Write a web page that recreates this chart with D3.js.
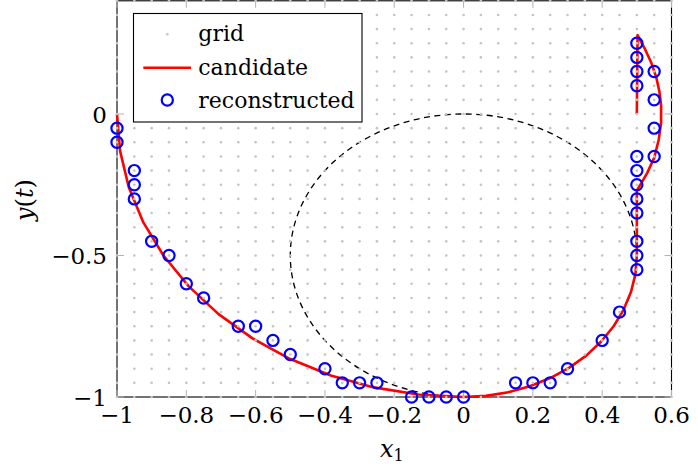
<!DOCTYPE html>
<html><head><meta charset="utf-8">
<script src="https://cdn.jsdelivr.net/npm/d3@7"></script>
<style>
body{margin:0;background:#fff}
svg{display:block}
text{font-family:"DejaVu Serif","Liberation Serif",serif;fill:#000}
</style>
</head><body><svg width="698" height="468"></svg>
<script>
// ---- data ----
const xTicks = [-1, -0.8, -0.6, -0.4, -0.2, 0, 0.2, 0.4, 0.6];
const yTicks = [-1, -0.5, 0];
const xTickLabels = ["\u22121", "\u22120.8", "\u22120.6", "\u22120.4", "\u22120.2", "0", "0.2", "0.4", "0.6"];
const yTickLabels = ["\u22121", "\u22120.5", "0"];

// grid lattice coordinates (legend "grid")
const gridXs = [-1,-0.95,-0.9,-0.85,-0.8,-0.75,-0.7,-0.65,-0.6,-0.55,-0.5,-0.45,-0.4,-0.35,-0.3,-0.25,-0.2,-0.15,-0.1,-0.05,0,0.05,0.1,0.15,0.2,0.25,0.3,0.35,0.4,0.45,0.5,0.55,0.6];
const gridYs = [-1,-0.95,-0.9,-0.85,-0.8,-0.75,-0.7,-0.65,-0.6,-0.55,-0.5,-0.45,-0.4,-0.35,-0.3,-0.25,-0.2,-0.15,-0.1,-0.05,0,0.05,0.1,0.15,0.2,0.25,0.3,0.35,0.4];

// candidate curve
const candX = [-1,-0.991,-0.966,-0.924,-0.866,-0.793,-0.707,-0.609,-0.5,-0.383,-0.259,-0.131,0,
  0.065,0.129,0.191,0.25,0.304,0.354,0.397,0.433,0.462,0.483,0.496,0.5,
  0.5,0.515,0.530,0.550,0.563,0.570,0.570,0.565,0.556,0.542,0.524,0.502,0.5];
const candY = [0,-0.131,-0.259,-0.383,-0.5,-0.609,-0.707,-0.793,-0.866,-0.924,-0.966,-0.991,-1,
  -0.996,-0.983,-0.962,-0.933,-0.897,-0.854,-0.804,-0.75,-0.691,-0.629,-0.565,-0.5,
  -0.27,-0.24,-0.208,-0.155,-0.092,-0.03,0.03,0.08,0.13,0.18,0.228,0.279,0];

// reconstructed points
const recX = [-1,-1,-0.95,-0.95,-0.95,-0.9,-0.85,-0.8,-0.75,-0.65,-0.6,-0.55,-0.5,-0.4,-0.35,-0.3,-0.25,
  -0.15,-0.1,-0.05,0,0.15,0.2,0.25,0.3,0.4,0.45,
  0.5,0.5,0.5,0.5,0.5,0.5,0.5,0.5,
  0.5,0.5,0.5,0.5,
  0.55,0.55,0.55,0.55];
const recY = [-0.05,-0.1,-0.2,-0.25,-0.3,-0.45,-0.5,-0.6,-0.65,-0.75,-0.75,-0.8,-0.85,-0.9,-0.95,-0.95,-0.95,
  -1,-1,-1,-1,-0.95,-0.95,-0.95,-0.9,-0.8,-0.7,
  -0.55,-0.5,-0.45,-0.35,-0.3,-0.25,-0.2,-0.15,
  0.25,0.2,0.15,0.1,
  0.15,0.05,-0.05,-0.15];

// reference circle (dashed): center and radius
const refCenter = [0, -0.5];
const refRadius = [0.5];

const legendLabels = ["grid", "candidate", "reconstructed"];

// ---- chart ----
const svg = d3.select("svg");
const L = 117, R = 671.5, T = 0.8, B = 397;
const x = d3.scaleLinear().domain([-1, 0.6]).range([L, R]);
const y = d3.scaleLinear().domain([-1, 0.4]).range([B, T]);

// frame
svg.append("rect").attr("x", L).attr("y", T).attr("width", R - L).attr("height", B - T)
  .attr("fill", "none").attr("stroke", "#000").attr("stroke-width", 1.1);

// ticks (gray, inward)
const tl = 7, tickCol = "#b3b3b3";
const tg = svg.append("g").attr("stroke", tickCol).attr("stroke-width", 1);
xTicks.forEach(v => {
  tg.append("line").attr("x1", x(v)).attr("x2", x(v)).attr("y1", B).attr("y2", B - tl);
  tg.append("line").attr("x1", x(v)).attr("x2", x(v)).attr("y1", T).attr("y2", T + tl);
});
yTicks.forEach(v => {
  tg.append("line").attr("y1", y(v)).attr("y2", y(v)).attr("x1", L).attr("x2", L + tl);
  tg.append("line").attr("y1", y(v)).attr("y2", y(v)).attr("x1", R).attr("x2", R - tl);
});

// tick labels
xTicks.forEach((v, i) => {
  svg.append("text").attr("x", x(v)).attr("y", 423).attr("text-anchor", "middle")
    .attr("font-size", 23).text(xTickLabels[i]);
});
yTicks.forEach((v, i) => {
  svg.append("text").attr("x", 107).attr("y", y(v) + 8.5).attr("text-anchor", "end")
    .attr("font-size", 23).text(yTickLabels[i]);
});

// axis labels
const xl = svg.append("text").attr("x", 380).attr("y", 457).attr("font-size", 24);
xl.append("tspan").attr("font-style", "italic").text("x");
xl.append("tspan").attr("font-size", 16).attr("dy", 4).text("1");

const yl = svg.append("text").attr("transform", "translate(33,200) rotate(-90)")
  .attr("text-anchor", "middle").attr("font-size", 24);
yl.append("tspan").attr("font-style", "italic").text("y");
yl.append("tspan").text("(");
yl.append("tspan").attr("font-style", "italic").text("t");
yl.append("tspan").text(")");

// dashed reference circle
svg.append("ellipse")
  .attr("cx", x(refCenter[0])).attr("cy", y(refCenter[1]))
  .attr("rx", x(refRadius[0]) - x(0)).attr("ry", y(0) - y(refRadius[0]))
  .attr("fill", "none").attr("stroke", "#000").attr("stroke-width", 1.3)
  .attr("stroke-dasharray", "6,4.5");

// candidate curve
const cand = candX.map((v, i) => [v, candY[i]]);
svg.append("path").datum(cand)
  .attr("d", d3.line().x(d => x(d[0])).y(d => y(d[1])))
  .attr("fill", "none").attr("stroke", "#ff0000").attr("stroke-width", 2.6)
  .attr("stroke-linejoin", "round");

// grid dots
const grid = [];
gridYs.forEach(gy => gridXs.forEach(gx => grid.push([gx, gy])));
svg.append("g").selectAll("circle").data(grid).join("circle")
  .attr("cx", d => x(d[0])).attr("cy", d => y(d[1])).attr("r", 1.3)
  .attr("fill", "#c4c4c4");

// reconstructed markers
const rec = recX.map((v, i) => [v, recY[i]]);
svg.append("g").selectAll("circle").data(rec).join("circle")
  .attr("cx", d => x(d[0])).attr("cy", d => y(d[1])).attr("r", 5.6)
  .attr("fill", "none").attr("stroke", "#0000ff").attr("stroke-width", 2.2);

// legend
const lg = svg.append("g");
lg.append("rect").attr("x", 133.5).attr("y", 13.5).attr("width", 228.5).attr("height", 108.5)
  .attr("fill", "#fff").attr("stroke", "#000").attr("stroke-width", 1.1);
lg.append("circle").attr("cx", 167.3).attr("cy", 34.3).attr("r", 1.3).attr("fill", "#c4c4c4");
lg.append("line").attr("x1", 143.3).attr("x2", 191).attr("y1", 67.7).attr("y2", 67.7)
  .attr("stroke", "#ff0000").attr("stroke-width", 2.6);
lg.append("circle").attr("cx", 167.3).attr("cy", 100).attr("r", 5.6)
  .attr("fill", "none").attr("stroke", "#0000ff").attr("stroke-width", 2.2);
[41, 74.5, 107.5].forEach((by, i) => {
  lg.append("text").attr("x", 198.3).attr("y", by).attr("font-size", 22).text(legendLabels[i]);
});
</script></body></html>
